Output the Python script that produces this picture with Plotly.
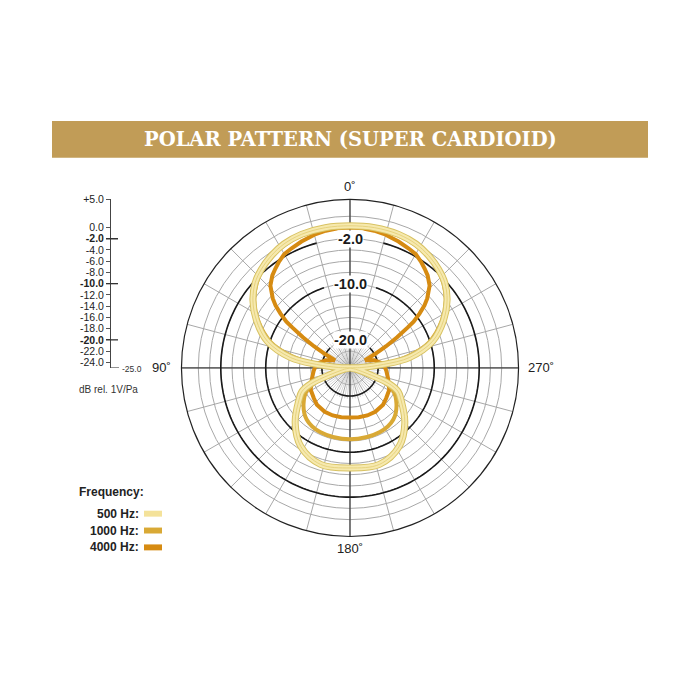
import plotly.graph_objects as go

# ---------------- data ----------------
# half pattern: angle off-axis (deg) -> level (dB rel. 1V/Pa); pattern is symmetric
ang_500 = [0, 10, 20, 28, 35, 42, 48, 55, 63, 72, 80, 84, 88, 95, 103, 109, 112, 116, 122, 135, 148, 163, 180]
db_500 = [0.3, 0.35, 0.3, 0.0, -0.6, -1.4, -2.3, -3.9, -6.3, -9.5, -14.2, -19.0, -23.0, -25.0, -24.0, -21.0, -17.5, -15.5, -14.3, -11.2, -8.5, -7.05, -7.2]

ang_1000 = [0, 10, 20, 28, 35, 42, 48, 55, 63, 72, 78, 83, 88, 95, 100, 108, 117, 128, 140, 155, 180]
db_1000 = [0.1, 0.15, 0.1, -0.2, -0.8, -1.6, -2.6, -4.2, -6.7, -10.2, -14.0, -18.0, -22.0, -24.5, -23.5, -20.5, -16.5, -14.5, -13.0, -12.4, -12.3]

ang_4000 = [0, 5, 10, 15, 21, 26, 30, 34, 37, 40, 44, 48, 50, 52, 54, 55, 57, 59, 61, 63, 66, 72, 83,
            95, 105, 119, 130, 138, 150, 160, 170, 180]
db_4000 = [0.0, -0.05, -0.2, -0.45, -0.9, -1.3, -1.6, -2.3, -2.9, -3.5, -4.6, -6.5, -7.7, -9.3, -11.0,
           -12.5, -15.0, -17.5, -20.0, -22.0, -21.5, -20.5, -19.0, -18.5, -18.0, -17.0, -16.6, -16.2,
           -16.0, -16.0, -16.1, -16.2]

series_names = ["500 Hz", "1000 Hz", "4000 Hz"]
series_colors = ["#F4E29A", "#D9A935", "#D68B12"]

r_min, r_max = -25, 5
ring_vals = [-24, -22, -20, -18, -16, -14, -12, -10, -8, -6, -4, -2, 0, 2]
bold_rings = [-2, -10, -20]
bold_ring_gaps = [15, 18, 45]
scale_vals = [5, 0, -2, -4, -6, -8, -10, -12, -14, -16, -18, -20, -22, -24]
scale_text = ["+5.0", "0.0", "<b>-2.0</b>", "-4.0", "-6.0", "-8.0", "<b>-10.0</b>", "-12.0",
              "-14.0", "-16.0", "-18.0", "<b>-20.0</b>", "-22.0", "-24.0"]
angle_labels = {0: "0˚", 90: "90˚", 180: "180˚", 270: "270˚"}

title = "POLAR PATTERN (SUPER CARDIOID)"
W = H = 700
OX, OY = 8, 13   # page offset of the plot inside the browser window


def full(ang, vals):
    th = list(ang) + [360 - a for a in reversed(ang[:-1])]
    rv = list(vals) + list(reversed(vals[:-1]))
    return th, rv


def px(x):
    return (x - OX) / W


def py(y):
    return 1 - (y - OY) / H


# polar placement (screen pixels)
cx, cy, R = 350, 370, 170
dom_x = [px(cx - R), px(cx + R)]
dom_y = [py(cy + R), py(cy - R)]

fig = go.Figure()

# fine inner spokes
th_f, r_f = [], []
for a in range(0, 360, 5):
    if a % 15:
        th_f += [a, a, None]
        r_f += [r_min, -19.5, None]
fig.add_trace(go.Scatterpolar(r=r_f, theta=th_f, mode="lines",
                              line=dict(color="#BBBBBB", width=0.6),
                              hoverinfo="skip", showlegend=False))

# black axes through center
for a in (0, 90):
    fig.add_trace(go.Scatterpolar(r=[r_max, r_min, r_max], theta=[a, a, a + 180], mode="lines",
                                  line=dict(color="#222222", width=1),
                                  hoverinfo="skip", showlegend=False))

# bold rings
for rv, gap in zip(bold_rings, bold_ring_gaps):
    th = [gap + i * (360 - 2 * gap) / 200 for i in range(201)]
    fig.add_trace(go.Scatterpolar(r=[rv] * len(th), theta=th, mode="lines",
                                  line=dict(color="#1A1A1A", width=1.6),
                                  hoverinfo="skip", showlegend=False))

# response curves (4000 underneath, 500 on top)
data = {"500 Hz": (ang_500, db_500), "1000 Hz": (ang_1000, db_1000), "4000 Hz": (ang_4000, db_4000)}
for name in ["4000 Hz", "1000 Hz", "500 Hz"]:
    i = series_names.index(name)
    th, rv = full(*data[name])
    spl = dict(shape="spline", smoothing=1.0)
    if name == "500 Hz":
        fig.add_trace(go.Scatterpolar(r=rv, theta=th, mode="lines",
                                      line=dict(color="#D8C262", width=7, **spl),
                                      hoverinfo="skip", showlegend=False))
        fig.add_trace(go.Scatterpolar(r=rv, theta=th, mode="lines", name=name,
                                      line=dict(color="#F6E9AE", width=5, **spl), showlegend=False))
        fig.add_trace(go.Scatterpolar(r=rv, theta=th, mode="lines",
                                      line=dict(color="#E6D27E", width=1, **spl),
                                      hoverinfo="skip", showlegend=False))
    elif name == "4000 Hz":
        fig.add_trace(go.Scatterpolar(r=rv, theta=th, mode="lines", name=name,
                                      line=dict(color=series_colors[i], width=4, shape="linear"),
                                      showlegend=False))
    else:
        fig.add_trace(go.Scatterpolar(r=rv, theta=th, mode="lines", name=name,
                                      line=dict(color=series_colors[i], width=4, **spl),
                                      showlegend=False))

# helper cartesian trace for left dB scale
fig.add_trace(go.Scatter(x=[0.5], y=[r_min], mode="markers", marker=dict(opacity=0),
                         hoverinfo="skip", showlegend=False, xaxis="x", yaxis="y"))

fig.update_layout(
    width=W, height=H, margin=dict(l=0, r=0, t=0, b=0),
    paper_bgcolor="white", plot_bgcolor="rgba(0,0,0,0)",
    showlegend=False,
    polar=dict(
        domain=dict(x=dom_x, y=dom_y),
        bgcolor="white",
        radialaxis=dict(range=[r_min, r_max], tickvals=ring_vals, showticklabels=False, ticks="",
                        showline=False, gridcolor="#A8A8A8", gridwidth=0.7),
        angularaxis=dict(rotation=90, direction="counterclockwise", dtick=15,
                         showticklabels=False, ticks="", gridcolor="#A8A8A8", gridwidth=0.7,
                         showline=True, linecolor="#222222", linewidth=1.2),
    ),
    xaxis=dict(domain=[px(111), px(125)], range=[0, 1], visible=False, fixedrange=True),
    yaxis=dict(domain=[py(370), py(200)], range=[r_min, r_max], anchor="x",
               tickvals=scale_vals, ticktext=scale_text, ticks="outside", ticklen=4,
               tickcolor="#555555", tickfont=dict(family="Liberation Sans, Arial", size=10.5, color="#222222"),
               showline=True, linecolor="#444444", linewidth=1, showgrid=False, zeroline=False,
               fixedrange=True),
)

shapes = []
# title banner
shapes.append(dict(type="rect", xref="paper", yref="paper", x0=px(52), x1=px(648), y0=py(158), y1=py(121),
                   fillcolor="#C19C57", line=dict(width=0), layer="below"))
# major scale ticks
for v in bold_rings:
    shapes.append(dict(type="line", xref="paper", yref="y", x0=px(106), x1=px(118), y0=v, y1=v,
                       line=dict(color="#333333", width=1.3)))
shapes.append(dict(type="line", xref="paper", yref="y", x0=px(111), x1=px(119), y0=r_min, y1=r_min,
                   line=dict(color="#444444", width=1)))
# legend swatches
leg_y = [517, 534, 551]
for c, yy in zip(series_colors, leg_y):
    shapes.append(dict(type="rect", xref="paper", yref="paper", x0=px(144), x1=px(162),
                       y0=py(yy + 3), y1=py(yy - 3), fillcolor=c, line=dict(width=0)))
fig.update_layout(shapes=shapes)

ann = []


def label(text, x, y, size, xa="center", color="#222", family="Liberation Sans, Arial", **kw):
    d = dict(text=text, x=px(x), y=py(y), xref="paper", yref="paper", showarrow=False,
             xanchor=xa, yanchor="middle", font=dict(family=family, size=size, color=color))
    d.update(kw)
    ann.append(d)


label(f"<b>{title}</b>", 350, 140, 19.5, color="white", family="DejaVu Serif")


def ring_label_pos(db):
    r = (db - r_min) / (r_max - r_min) * R
    return cy - r


for v in bold_rings:
    label(f"<b>{v:.1f}</b>", cx, ring_label_pos(v), 14.5, color="#1A1A1A", bgcolor="white", borderpad=0)

label(angle_labels[0], cx, cy - R - 13, 13)
label(angle_labels[180], cx, cy + R + 12, 13)
label(angle_labels[90], cx - R - 7, cy, 13, xa="right")
label(angle_labels[270], cx + R + 6, cy, 13, xa="left")

ann.append(dict(text="-25.0", x=px(120), y=r_min, xref="paper", yref="y", showarrow=False, xanchor="left",
                yanchor="middle", yshift=-1, font=dict(family="Liberation Sans, Arial", size=8.5, color="#333")))
label("dB rel. 1V/Pa", 77, 392, 10, xa="left", color="#333")
label("<b>Frequency:</b>", 77, 495, 12, xa="left")
for n, yy in zip(series_names, leg_y):
    label(f"<b>{n}:</b>", 141, yy, 12, xa="right")

fig.update_layout(annotations=ann)
fig.write_html("out.html")
